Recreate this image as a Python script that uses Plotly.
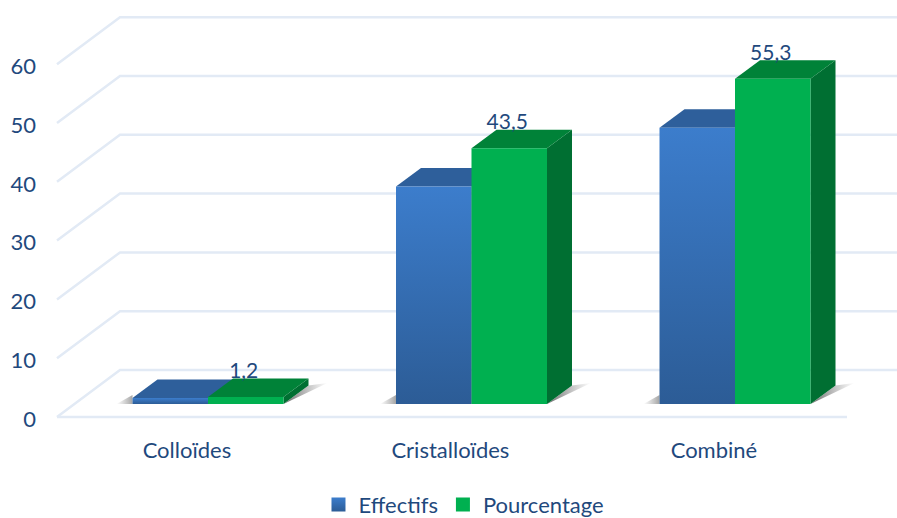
import plotly.graph_objects as go

categories = ["Colloïdes", "Cristalloïdes", "Combiné"]
effectifs = [1, 37, 47]
pourcentage = [1.2, 43.5, 55.3]
y_ticks = [0, 10, 20, 30, 40, 50, 60]

W, H = 897, 518
PL, PB = 37, 435
CX0, STEP = 208.0, 263.5      # px of first group centre, px per category
PPU = 5.88                    # px per y unit
Y0 = 417.0                    # px of value 0

def ux(px):
    return px / STEP
def uy(px):
    return px / PPU

TXT = "#1f497d"
FONT = "Lato"
bw = ux(75.5)
dx, dy = ux(25), uy(18.5)
wx, wy = ux(63), uy(47)
base = uy(13)
xl = (57 - CX0) / STEP
xr = (897 - CX0) / STEP
xfloor = (847 - CX0) / STEP

fig = go.Figure()

# 3-D wall and floor grid
gx, gy = [], []
for v in y_ticks:
    gx += [xl, xl + wx, xr, None]
    gy += [v, v + wy, v + wy, None]
gx += [xl, xfloor]
gy += [0, 0]
fig.add_trace(go.Scatter(x=gx, y=gy, mode="lines", line=dict(color="#e2eaf5", width=2.5),
                         hoverinfo="skip", showlegend=False))

def poly(xs, ys, color=None, grad=None):
    kw = dict(x=xs + xs[:1], y=ys + ys[:1], mode="lines", fill="toself",
              line=dict(width=0), hoverinfo="skip", showlegend=False)
    if grad:
        kw["fillgradient"] = grad
    else:
        kw["fillcolor"] = color
    fig.add_trace(go.Scatter(**kw))

SHL = dict(type="horizontal", colorscale=[[0, "rgba(110,110,110,0)"], [1, "rgba(90,90,90,0.55)"]])
SHR = dict(type="horizontal", colorscale=[[0, "rgba(80,80,80,0.85)"], [1, "rgba(110,110,110,0)"]])

# contact shadows
for i in range(len(categories)):
    left = i - bw
    right = i + bw
    poly([left - ux(16), left, left], [base, base, base + uy(9)], grad=SHL)
    poly([right, right + dx, right + ux(44)], [base, base + dy, base + uy(21)], grad=SHR)

BLUE_GRAD = dict(type="vertical", colorscale=[[0, "#2c5c96"], [1, "#3c7dcc"]])

def box(x0, val, front, top, side):
    x1 = x0 + bw
    t = base + val
    poly([x1, x1 + dx, x1 + dx, x1], [base, base + dy, t + dy, t], side)
    poly([x0, x1, x1 + dx, x0 + dx], [t, t, t + dy, t + dy], top)
    if isinstance(front, dict):
        poly([x0, x1, x1, x0], [base, base, t, t], grad=front)
    else:
        poly([x0, x1, x1, x0], [base, base, t, t], front)

for i in range(len(categories)):
    box(i - bw, effectifs[i], BLUE_GRAD, "#2e5f9b", "#254f80")
    box(i, pourcentage[i], "#00b050", "#008238", "#006f32")

# data labels
fig.add_trace(go.Scatter(
    x=[i + bw / 2 - ux(2) for i in range(len(categories))],
    y=[base + v + uy(24.5) for v in pourcentage],
    mode="text",
    text=[f"{v:.1f}".replace(".", ",") for v in pourcentage],
    textposition="middle center",
    textfont=dict(family=FONT, size=21, color=TXT),
    hoverinfo="skip", showlegend=False))

# legend entries
for name, col, grad in [("Effectifs", "#3c7dcc", dict(type="vertical", color="#2c5c96")),
                        ("Pourcentage", "#00b050", None)]:
    m = dict(symbol="square", size=14, color=col)
    if grad:
        m["gradient"] = grad
    fig.add_trace(go.Scatter(x=[None], y=[None], mode="markers", name=name, marker=m))

fig.update_layout(
    width=W, height=H,
    margin=dict(l=PL, r=0, t=0, b=H - PB, autoexpand=False),
    paper_bgcolor="white", plot_bgcolor="white",
    xaxis=dict(range=[(PL - CX0) / STEP, (W - CX0) / STEP],
               tickvals=[i - 0.08 for i in range(len(categories))], ticktext=categories,
               showgrid=False, zeroline=False, showline=False, ticks="",
               tickfont=dict(family=FONT, size=22, color=TXT), fixedrange=True),
    yaxis=dict(range=[(Y0 - PB) / PPU, Y0 / PPU],
               tickvals=y_ticks, showgrid=False, zeroline=False, showline=False, ticks="",
               ticklabelshift=2,
               tickfont=dict(family=FONT, size=22, color=TXT), fixedrange=True),
    legend=dict(orientation="h", x=0.4965, xanchor="center", xref="paper", y=-0.112, yanchor="top",
                yref="paper", font=dict(family=FONT, size=22, color=TXT),
                bgcolor="rgba(0,0,0,0)", itemwidth=30),
    showlegend=True,
)

fig.write_html("out.html", config=dict(displayModeBar=False),
               post_script="document.body.style.margin='0';")
